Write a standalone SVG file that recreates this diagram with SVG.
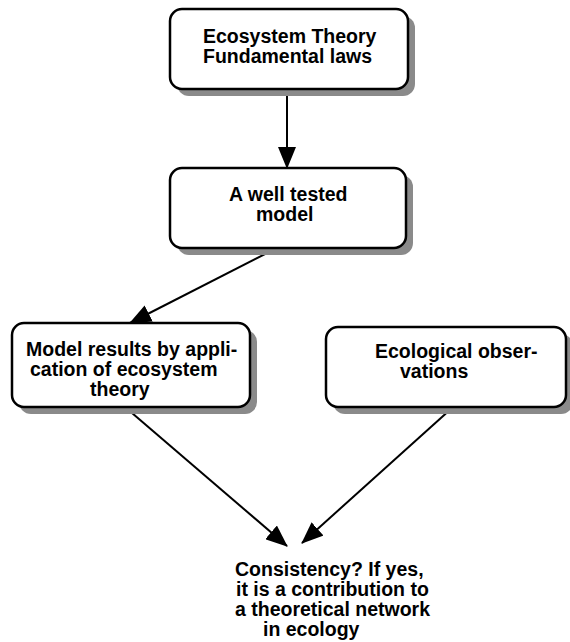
<svg xmlns="http://www.w3.org/2000/svg" width="570" height="642" viewBox="0 0 570 642">
  <style>
    .box { fill: #ffffff; stroke: #000000; stroke-width: 2.5; }
    .shadow { fill: #8a8a8a; stroke: none; }
    .lbl { font-family: "Liberation Sans", Arial, Helvetica, sans-serif; font-weight: bold; font-size: 19.5px; fill: #000000; }
    .edge { stroke: #000000; stroke-width: 2; fill: none; marker-end: url(#arrow); }
  </style>
  <defs>
    <marker id="arrow" markerUnits="userSpaceOnUse" markerWidth="22" markerHeight="18" refX="21" refY="9" orient="auto" viewBox="0 0 22 18">
      <path d="M0,0 L22,9 L0,18 z" fill="#000000"/>
    </marker>
  </defs>
  <rect width="570" height="642" fill="#ffffff"/>

  <g id="connectors">
    <line class="edge" x1="287" y1="89" x2="287" y2="168"/>
    <line class="edge" x1="277" y1="248" x2="130" y2="323"/>
    <line class="edge" x1="125" y1="407" x2="287" y2="546"/>
    <line class="edge" x1="452" y1="408" x2="302" y2="543"/>
  </g>

  <g id="node-theory">
    <rect class="shadow" x="177" y="16" width="238" height="80" rx="12"/>
    <rect class="box" x="170" y="9" width="238" height="80" rx="12"/>
    <text class="lbl" x="203" y="43">Ecosystem Theory</text>
    <text class="lbl" x="203" y="63">Fundamental laws</text>
  </g>

  <g id="node-model">
    <rect class="shadow" x="177" y="175" width="236" height="80" rx="12"/>
    <rect class="box" x="170" y="168" width="236" height="80" rx="12"/>
    <text class="lbl" x="229" y="201">A well tested</text>
    <text class="lbl" x="256" y="221">model</text>
  </g>

  <g id="node-results">
    <rect class="shadow" x="19" y="330" width="238" height="84" rx="12"/>
    <rect class="box" x="12" y="323" width="238" height="84" rx="12"/>
    <text class="lbl" x="26" y="356">Model results by appli-</text>
    <text class="lbl" x="30" y="376">cation of ecosystem</text>
    <text class="lbl" x="90" y="396">theory</text>
  </g>

  <g id="node-observations">
    <rect class="shadow" x="333" y="334" width="240" height="80" rx="12"/>
    <rect class="box" x="326" y="327" width="240" height="80" rx="12"/>
    <text class="lbl" x="375" y="358">Ecological obser-</text>
    <text class="lbl" x="400" y="378">vations</text>
  </g>

  <g id="node-consistency">
    <text class="lbl" x="235" y="576">Consistency? If yes,</text>
    <text class="lbl" x="236" y="596">it is a contribution to</text>
    <text class="lbl" x="235" y="616">a theoretical network</text>
    <text class="lbl" x="263" y="636">in ecology</text>
  </g>
</svg>
